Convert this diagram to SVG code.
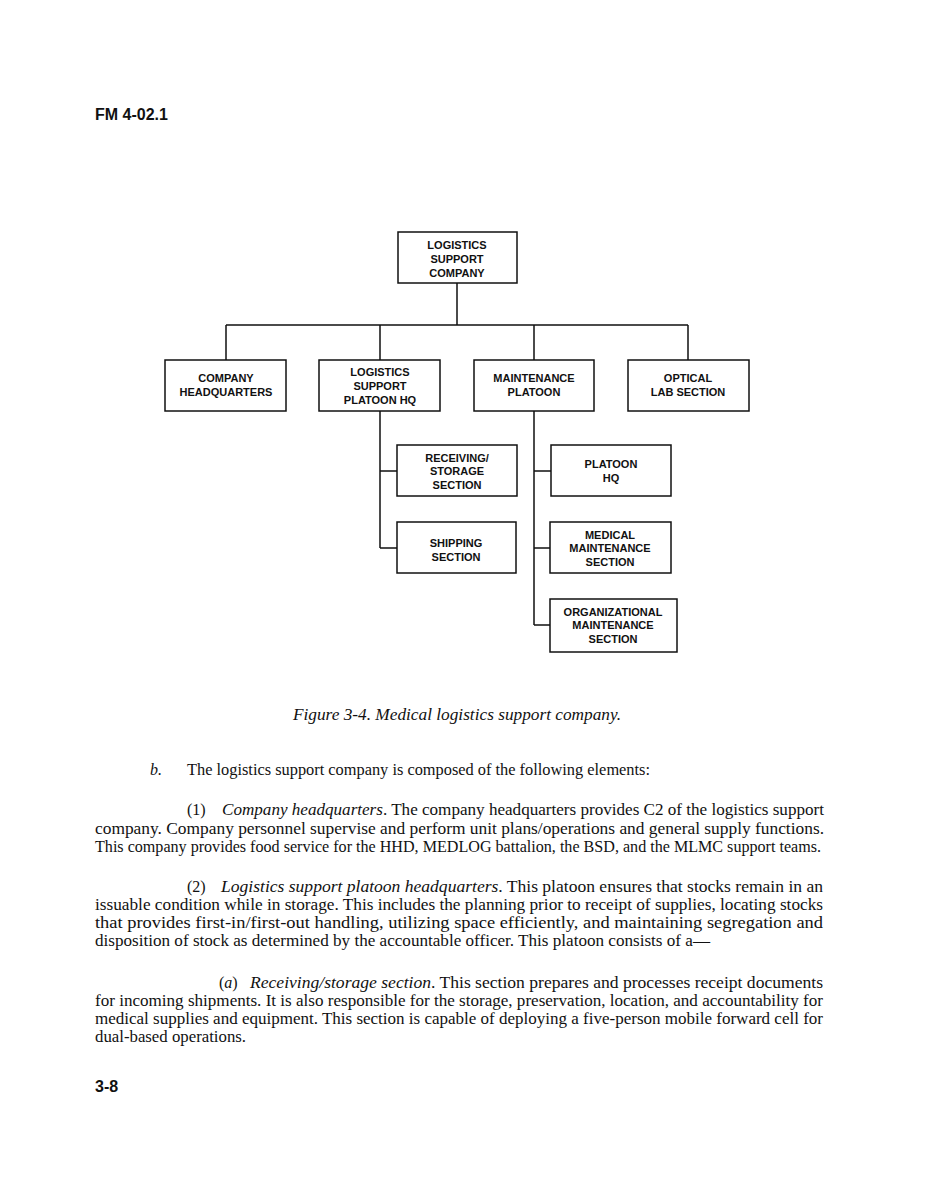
<svg xmlns="http://www.w3.org/2000/svg" width="930" height="1198" viewBox="0 0 930 1198">
<style>
.bg{fill:#fff}
.box{fill:#fff;stroke:#111;stroke-width:1.5}
.lbl{font-family:"Liberation Sans",Arial,sans-serif;font-weight:bold;font-size:11px;fill:#111;text-anchor:middle}
.con{fill:none;stroke:#111;stroke-width:1.5}
.hdr{font-family:"Liberation Sans",Arial,sans-serif;font-weight:bold;font-size:16px;fill:#111}
.body{font-family:"Liberation Serif","Times New Roman",serif;font-size:16px;fill:#111}
.it{font-style:italic}
</style>
<rect class="bg" x="0" y="0" width="930" height="1198"/>
<text class="hdr" x="95" y="120">FM 4-02.1</text>

<g id="connectors">
<path class="con" d="M457 283 V325 M226 325 H688 M226 325 V360 M380 325 V360 M534 325 V360 M688 325 V360"/>
<path class="con" d="M380 411 V548 M380 471 H397 M380 548 H397"/>
<path class="con" d="M534 411 V625 M534 471 H551 M534 548 H550 M534 625 H550"/>
</g>

<g id="n-lsc"><rect class="box" x="398" y="232" width="119" height="51"/>
<text class="lbl" x="457" y="249">LOGISTICS</text><text class="lbl" x="457" y="263">SUPPORT</text><text class="lbl" x="457" y="277">COMPANY</text></g>

<g id="n-chq"><rect class="box" x="165" y="360" width="121" height="51"/>
<text class="lbl" x="226" y="382">COMPANY</text><text class="lbl" x="226" y="396">HEADQUARTERS</text></g>

<g id="n-lsphq"><rect class="box" x="319" y="360" width="121" height="51"/>
<text class="lbl" x="380" y="376">LOGISTICS</text><text class="lbl" x="380" y="390">SUPPORT</text><text class="lbl" x="380" y="404">PLATOON HQ</text></g>

<g id="n-maint"><rect class="box" x="474" y="360" width="120" height="51"/>
<text class="lbl" x="534" y="382">MAINTENANCE</text><text class="lbl" x="534" y="396">PLATOON</text></g>

<g id="n-optical"><rect class="box" x="628" y="360" width="121" height="51"/>
<text class="lbl" x="688" y="382">OPTICAL</text><text class="lbl" x="688" y="396">LAB SECTION</text></g>

<g id="n-recv"><rect class="box" x="397" y="445" width="120" height="51"/>
<text class="lbl" x="457" y="462">RECEIVING/</text><text class="lbl" x="457" y="475">STORAGE</text><text class="lbl" x="457" y="489">SECTION</text></g>

<g id="n-ship"><rect class="box" x="397" y="522" width="119" height="51"/>
<text class="lbl" x="456" y="547">SHIPPING</text><text class="lbl" x="456" y="561">SECTION</text></g>

<g id="n-plthq"><rect class="box" x="551" y="445" width="120" height="51"/>
<text class="lbl" x="611" y="468">PLATOON</text><text class="lbl" x="611" y="482">HQ</text></g>

<g id="n-medmaint"><rect class="box" x="550" y="522" width="121" height="51"/>
<text class="lbl" x="610" y="539">MEDICAL</text><text class="lbl" x="610" y="552">MAINTENANCE</text><text class="lbl" x="610" y="566">SECTION</text></g>

<g id="n-orgmaint"><rect class="box" x="550" y="599" width="127" height="53"/>
<text class="lbl" x="613" y="616">ORGANIZATIONAL</text><text class="lbl" x="613" y="629">MAINTENANCE</text><text class="lbl" x="613" y="643">SECTION</text></g>

<text class="body it" x="293" y="720" textLength="328" lengthAdjust="spacingAndGlyphs">Figure 3-4.  Medical logistics support company.</text>

<text class="body it" x="150" y="775">b.</text>
<text class="body" x="187" y="775" textLength="463" lengthAdjust="spacingAndGlyphs">The logistics support company is composed of the following elements:</text>

<text class="body" x="187" y="815">(1)</text>
<text class="body" x="222" y="815" textLength="602" lengthAdjust="spacingAndGlyphs"><tspan class="it">Company headquarters</tspan>.  The company headquarters provides C2 of the logistics support</text>
<text class="body" x="95" y="834" textLength="729" lengthAdjust="spacingAndGlyphs">company.  Company personnel supervise and perform unit plans/operations and general supply functions.</text>
<text class="body" x="95" y="852" textLength="726" lengthAdjust="spacingAndGlyphs">This company provides food service for the HHD, MEDLOG battalion, the BSD, and the MLMC support teams.</text>

<text class="body" x="187" y="892">(2)</text>
<text class="body" x="221" y="892" textLength="602" lengthAdjust="spacingAndGlyphs"><tspan class="it">Logistics support platoon headquarters</tspan>.  This platoon ensures that stocks remain in an</text>
<text class="body" x="95" y="910" textLength="728" lengthAdjust="spacingAndGlyphs">issuable condition while in storage.  This includes the planning prior to receipt of supplies, locating stocks</text>
<text class="body" x="95" y="928" textLength="728" lengthAdjust="spacingAndGlyphs">that provides first-in/first-out handling, utilizing space efficiently, and maintaining segregation and</text>
<text class="body" x="95" y="946" textLength="615" lengthAdjust="spacingAndGlyphs">disposition of stock as determined by the accountable officer.  This platoon consists of a—</text>

<text class="body" x="219" y="988">(<tspan class="it">a</tspan>)</text>
<text class="body" x="250" y="988" textLength="573" lengthAdjust="spacingAndGlyphs"><tspan class="it">Receiving/storage section</tspan>.  This section prepares and processes receipt documents</text>
<text class="body" x="95" y="1006" textLength="728" lengthAdjust="spacingAndGlyphs">for incoming shipments.  It is also responsible for the storage, preservation, location, and accountability for</text>
<text class="body" x="95" y="1024" textLength="728" lengthAdjust="spacingAndGlyphs">medical supplies and equipment.  This section is capable of deploying a five-person mobile forward cell for</text>
<text class="body" x="95" y="1042" textLength="151" lengthAdjust="spacingAndGlyphs">dual-based operations.</text>

<text class="hdr" x="95" y="1092">3-8</text>
</svg>
